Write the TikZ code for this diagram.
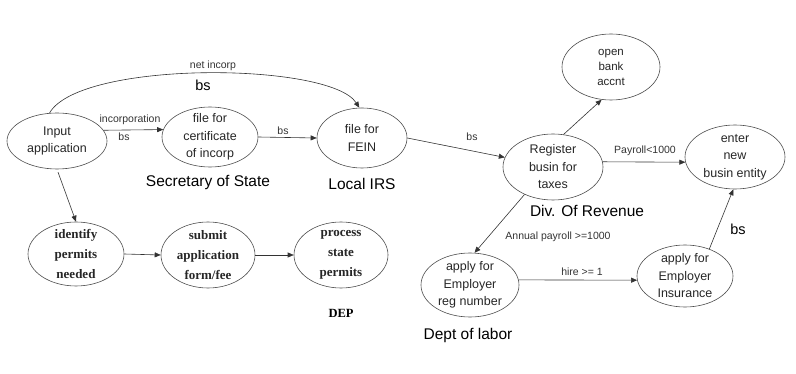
\documentclass[tikz,border=0pt]{standalone}
\usepackage{fontspec}
\setmainfont{Liberation Sans}
\newfontfamily\romanface{Liberation Serif}
\usetikzlibrary{arrows.meta,shapes.geometric}
\begin{document}
\begin{tikzpicture}[x=1pt,y=-1pt,
  task/.style={ellipse,draw=black!70,line width=0.6pt,inner sep=0pt,
    minimum width=98pt,minimum height=60pt},
  tasktext/.style={align=center,inner sep=0pt,font=\fontsize{12.5}{17.5}\selectfont,text=black!85},
  permtext/.style={align=center,inner sep=0pt,font=\romanface\bfseries\fontsize{13}{20}\selectfont,text=black!85},
  flow/.style={draw=black!80,line width=0.6pt,-{Triangle[length=6pt,width=5pt]}},
  small/.style={inner sep=0pt,font=\fontsize{10.5}{12}\selectfont,text=black!80},
  big/.style={inner sep=0pt,font=\fontsize{14.5}{16}\selectfont},
  agency/.style={inner sep=0pt,font=\fontsize{15.5}{18}\selectfont}]
\useasboundingbox (0,0) rectangle (796,374);

% upper chain: application, state, IRS
\node[task,minimum width=100pt,minimum height=56pt,label={[tasktext]center:{Input\\application}}] (in1) at (57,141) {};
\node[task,minimum width=96pt,label={[tasktext]center:{file for\\certificate\\of incorp}}] (cert) at (210,137) {};
\node[task,minimum width=90pt,label={[tasktext]center:{file for\\FEIN}}] (fein) at (362,138) {};

% revenue and follow-ups
\node[task,minimum width=100pt,minimum height=66pt,label={[tasktext]center:{Register\\busin for\\taxes}}] (reg) at (553,167) {};
\node[task,minimum width=98pt,minimum height=66pt,label={[tasktext,font=\fontsize{11.5}{15}\selectfont]center:{open\\bank\\accnt}}] (bank) at (611,67) {};
\node[task,minimum width=100pt,minimum height=64pt,label={[tasktext]center:{enter\\new\\busin entity}}] (enter) at (735,157) {};
\node[task,minimum width=98pt,minimum height=64pt,label={[tasktext]center:{apply for\\Employer\\reg number}}] (emp) at (470,285) {};
\node[task,minimum width=96pt,minimum height=62pt,label={[tasktext]center:{apply for\\Employer\\Insurance}}] (ins) at (685,276) {};

% permit chain
\node[task,minimum width=96pt,minimum height=64pt,label={[permtext]center:{identify\\permits\\needed}}] (ident) at (76,254) {};
\node[task,minimum width=94pt,minimum height=66pt,label={[permtext]center:{submit\\application\\form/fee}}] (submit) at (208,255) {};
\node[task,minimum width=94pt,minimum height=66pt,label={[permtext]center:{process\\state\\permits}}] (proc) at (341,255) {};

% agency captions
\node[agency] (sos) at (208,183) {Secretary of State};
\node[agency] (irs) at (362,184) {Local IRS};
\node[agency] (dor) at (587,211) {Div. Of Revenue};
\node[agency] (dol) at (468,335) {Dept of labor};
\node[inner sep=0pt,font=\romanface\bfseries\fontsize{12.5}{14}\selectfont] (dep) at (341,313) {DEP};

% connectors
\draw[flow] (in1.105) .. controls (80,60) and (330,62) .. (fein.95);
\node[small] (lnet) at (213,66) {net incorp};
\node[big] (lbs1) at (203,85) {bs};

\draw[flow] (in1.13) -- (cert.171);
\node[small] (linc) at (130,120) {incorporation};
\node[small] (lbs2) at (124,137) {bs};

\draw[flow] (cert.east) -- (fein.west);
\node[small] (lbs3) at (283,131) {bs};

\draw[flow] (fein.east) -- (reg);
\node[small] (lbs4) at (472,137) {bs};

\draw[flow] (reg.72) -- (bank.254);
\draw[flow] (reg.6) -- (enter.186);
\node[small] (lpay) at (645,151) {Payroll<1000};

\draw[flow] (reg.224) -- (emp.82);
\node[small] (lann) at (558,237) {Annual payroll >=1000};

\draw[flow] (emp.6) -- (ins.185);
\node[small] (lhire) at (582,272) {hire >= 1};

\draw[flow] (ins.48) -- (enter.267);
\node[big] (lbs5) at (738,229) {bs};

\draw[flow,shorten <=3pt] (in1.south) -- (ident.north);
\draw[flow] (ident.east) -- (submit.west);
\draw[flow] (submit.east) -- (proc.west);
\end{tikzpicture}
\end{document}
